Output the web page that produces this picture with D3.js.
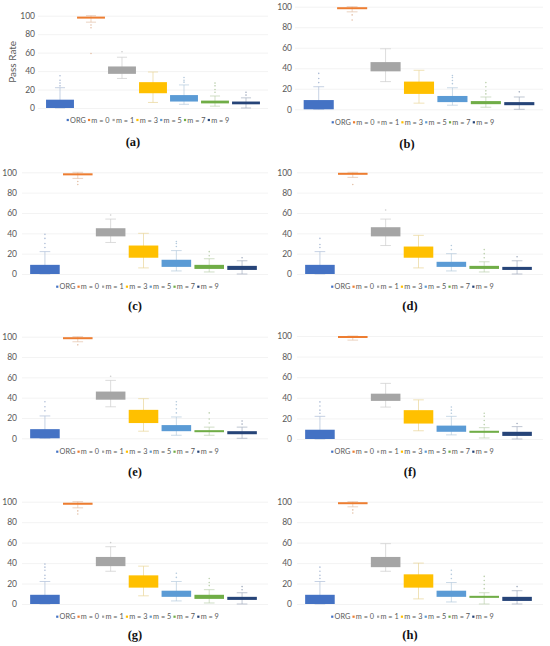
<!DOCTYPE html>
<html>
<head>
<meta charset="utf-8">
<script src="https://cdn.jsdelivr.net/npm/d3@7"></script>
<style>
  body { margin: 0; background: #fff; }
  svg { display: block; }
</style>
</head>
<body>
<div id="chart"></div>
<script>
// Categories in each box plot (legend order)
const categories = ['ORG', 'm = 0', 'm = 1', 'm = 3', 'm = 5', 'm = 7', 'm = 9'];
const panelLabels = ['(a)', '(b)', '(c)', '(d)', '(e)', '(f)', '(g)', '(h)'];
const yTicks = [0, 20, 40, 60, 80, 100];
const colors = ['#4472C4', '#ED7D31', '#A5A5A5', '#FFC000', '#5B9BD5', '#70AD47', '#264478'];

// Box lower edge (Q1), one row per panel
const q1 = [
  [0, 97, 37, 16, 7, 5, 4],
  [0, 98, 37, 15, 7, 5, 4],
  [0, 97, 37, 16, 7, 5, 4],
  [0, 98, 37, 16, 7, 5, 4],
  [0, 98, 38, 15, 7, 6, 4],
  [0, 98.5, 37, 15, 7, 6, 3],
  [0, 97, 37, 16, 7, 5, 4],
  [0, 98, 36, 16, 7, 6, 3]
];
// Box upper edge (Q3)
const q3 = [
  [9, 99, 45, 28, 14, 8, 7],
  [9, 99.5, 46, 27, 13, 8, 7],
  [9, 99, 45, 28, 14, 9, 8],
  [9, 99.5, 46, 27, 12, 8, 7],
  [9, 99.5, 46, 28, 13, 8, 7],
  [9, 100, 44, 28, 13, 8, 7],
  [9, 99, 46, 28, 13, 9, 7],
  [9, 99.5, 46, 29, 13, 8, 7]
];
// Lower whisker
const whiskerLow = [
  [0, 93, 32, 6, 4, 2, 0],
  [0, 95, 27, 6, 4, 2, 0],
  [0, 94, 31, 6, 3, 2, 0],
  [0, 95, 28, 6, 3, 2, 0],
  [0, 95, 31, 7, 3, 3, 0],
  [0, 96, 31, 8, 4, 1, 0],
  [0, 94, 32, 8, 3, 1, 0],
  [0, 95, 32, 5, 2, 0, 0]
];
// Upper whisker
const whiskerHigh = [
  [22, 100, 55, 39, 25, 13, 11],
  [22, 100, 59, 38, 21, 12, 12],
  [22, 100, 54, 40, 23, 15, 13],
  [22, 100, 54, 38, 20, 12, 13],
  [22, 100, 57, 39, 21, 11, 11],
  [22, 100, 54, 38, 22, 11, 12],
  [22, 100, 56, 37, 22, 14, 11],
  [22, 100, 59, 40, 21, 11, 13]
];
// Outlier points
const outliers = [
  [[24, 27, 30, 35], [90, 87, 59], [61], [], [28, 30, 33], [17, 20, 24, 27], [14, 17]],
  [[26, 30, 35], [92, 87], [], [], [25, 28, 31, 33], [15, 18, 22, 26], [17]],
  [[26, 30, 35, 39], [91, 88], [58], [], [27, 30, 32], [18, 22], [16]],
  [[26, 29, 35], [88], [63], [], [24, 28], [16, 20, 24], [17]],
  [[27, 31, 36], [92], [61], [], [25, 29, 33, 36], [15, 19, 25], [14, 17]],
  [[25, 28, 32, 36], [], [], [], [25, 28, 31], [14, 18, 22, 25], [15]],
  [[25, 28, 33, 36, 39], [91, 88], [60], [], [26, 30], [18, 21, 25], [14, 17]],
  [[25, 28, 32, 36], [89, 92], [], [], [25, 29, 33], [15, 19, 23, 27], [17]]
];

// Where each panel sits on the page
const layout = [
  { bx0: 44.5, bx1: 261.5, gx0: 38, gx1: 268, yZero: 108, yTop: 15.7, tickX: 35, legY: 120, legX: 148, capY: 142, capX: 133 },
  { bx0: 302, bx1: 536, gx0: 295, gx1: 543, yZero: 109.3, yTop: 6.7, tickX: 292, legY: 122.3, legX: 413, capY: 143.3, capX: 407 },
  { bx0: 28.5, bx1: 258.5, gx0: 22, gx1: 268, yZero: 274, yTop: 172.3, tickX: 17, legY: 286.7, legX: 137.5, capY: 305.7, capX: 135 },
  { bx0: 303.5, bx1: 533.5, gx0: 297, gx1: 543, yZero: 274, yTop: 172.3, tickX: 292, legY: 286.7, legX: 412.5, capY: 305.7, capX: 410 },
  { bx0: 28.5, bx1: 258.5, gx0: 22, gx1: 268, yZero: 438.3, yTop: 336.7, tickX: 17, legY: 451.7, legX: 137.5, capY: 471.7, capX: 135 },
  { bx0: 303.5, bx1: 533.5, gx0: 297, gx1: 543, yZero: 439, yTop: 336, tickX: 292, legY: 451.7, legX: 412.5, capY: 471.7, capX: 410 },
  { bx0: 28.5, bx1: 258.5, gx0: 22, gx1: 268, yZero: 604, yTop: 501.7, tickX: 17, legY: 616.7, legX: 137.5, capY: 635, capX: 135 },
  { bx0: 303.5, bx1: 533.5, gx0: 297, gx1: 543, yZero: 604, yTop: 501.7, tickX: 292, legY: 616.7, legX: 412.5, capY: 635, capX: 410 }
];

const width = 550;
const height = 646;
const textColor = '#595959';
const font = 'Lato, "Open Sans", sans-serif';

const svg = d3.select('#chart').append('svg')
  .attr('width', width)
  .attr('height', height)
  .attr('font-family', font);

// whiskers and outliers are drawn in a pale, greyed version of the box colour
const light = c => d3.interpolateRgb(d3.interpolateRgb(c, '#bfbfbf')(0.5), '#ffffff')(0.35);

panelLabels.forEach((label, p) => {
  const L = layout[p];
  const g = svg.append('g');

  const x = d3.scaleBand()
    .domain(categories)
    .range([L.bx0, L.bx1])
    .paddingInner(0.1)
    .paddingOuter(0.05);

  const y = d3.scaleLinear()
    .domain([0, 100])
    .range([L.yZero, L.yTop]);

  // y axis: gridlines + labels, no domain line
  const axis = g.append('g')
    .attr('transform', 'translate(' + L.gx0 + ',0)')
    .call(d3.axisLeft(y).tickValues(yTicks).tickSize(-(L.gx1 - L.gx0)).tickPadding(L.gx0 - L.tickX));
  axis.select('.domain').remove();
  axis.selectAll('.tick line').attr('stroke', '#eeeeee').attr('stroke-width', 0.7);
  axis.selectAll('.tick text')
    .attr('fill', textColor)
    .attr('font-size', 8.5)
    .attr('font-family', font);

  if (p === 0) {
    g.append('text')
      .attr('transform', 'translate(12,' + ((L.yZero + L.yTop) / 2) + ') rotate(-90)')
      .attr('text-anchor', 'middle')
      .attr('dy', '0.35em')
      .attr('fill', textColor)
      .attr('font-size', 10)
      .text('Pass Rate');
  }

  const boxes = g.selectAll('g.box')
    .data(categories.map((c, i) => ({
      cat: c,
      color: colors[i],
      q1: q1[p][i],
      q3: q3[p][i],
      lo: whiskerLow[p][i],
      hi: whiskerHigh[p][i],
      out: outliers[p][i]
    })))
    .enter().append('g')
    .attr('class', 'box');

  const bw = x.bandwidth();
  const cx = d => x(d.cat) + bw / 2;
  const cap = bw * 0.18;

  // whiskers
  boxes.append('line')
    .attr('x1', cx).attr('x2', cx)
    .attr('y1', d => y(d.hi)).attr('y2', d => y(d.lo))
    .attr('stroke', d => light(d.color))
    .attr('stroke-width', 0.7);
  boxes.append('line')
    .attr('x1', d => cx(d) - cap).attr('x2', d => cx(d) + cap)
    .attr('y1', d => y(d.hi)).attr('y2', d => y(d.hi))
    .attr('stroke', d => light(d.color))
    .attr('stroke-width', 0.7);
  boxes.append('line')
    .attr('x1', d => cx(d) - cap).attr('x2', d => cx(d) + cap)
    .attr('y1', d => y(d.lo)).attr('y2', d => y(d.lo))
    .attr('stroke', d => light(d.color))
    .attr('stroke-width', 0.7);

  // boxes
  boxes.append('rect')
    .attr('x', d => x(d.cat))
    .attr('width', bw)
    .attr('y', d => y(d.q3))
    .attr('height', d => Math.max(2, y(d.q1) - y(d.q3)))
    .attr('fill', d => d.color);

  // outliers
  boxes.selectAll('circle')
    .data(d => d.out.map(v => ({ v: v, color: d.color, cat: d.cat })))
    .enter().append('circle')
    .attr('cx', cx)
    .attr('cy', d => y(d.v))
    .attr('r', 0.8)
    .attr('fill', d => light(d.color));

  // legend, centred under the panel
  const leg = g.append('g');
  const items = leg.selectAll('g')
    .data(categories)
    .enter().append('g');
  items.append('rect')
    .attr('width', 2.2).attr('height', 2.2)
    .attr('y', -1.1)
    .attr('fill', (d, i) => colors[i]);
  items.append('text')
    .attr('x', 3.4)
    .attr('dy', '0.35em')
    .attr('fill', textColor)
    .attr('font-size', 7.3)
    .text(d => d);
  let pos = 0;
  items.each(function () {
    const w = this.getBBox().width;
    d3.select(this).attr('transform', 'translate(' + pos + ',0)');
    pos += w + 2.2;
  });
  pos -= 2.2;
  leg.attr('transform', 'translate(' + (L.legX - pos / 2) + ',' + L.legY + ')');

  // panel caption
  g.append('text')
    .attr('x', L.capX)
    .attr('y', L.capY)
    .attr('dy', '0.35em')
    .attr('text-anchor', 'middle')
    .attr('font-family', '"Liberation Serif", "DejaVu Serif", serif')
    .attr('font-weight', 'bold')
    .attr('font-size', 12.5)
    .attr('fill', '#111')
    .text(label);
});
</script>
</body>
</html>
